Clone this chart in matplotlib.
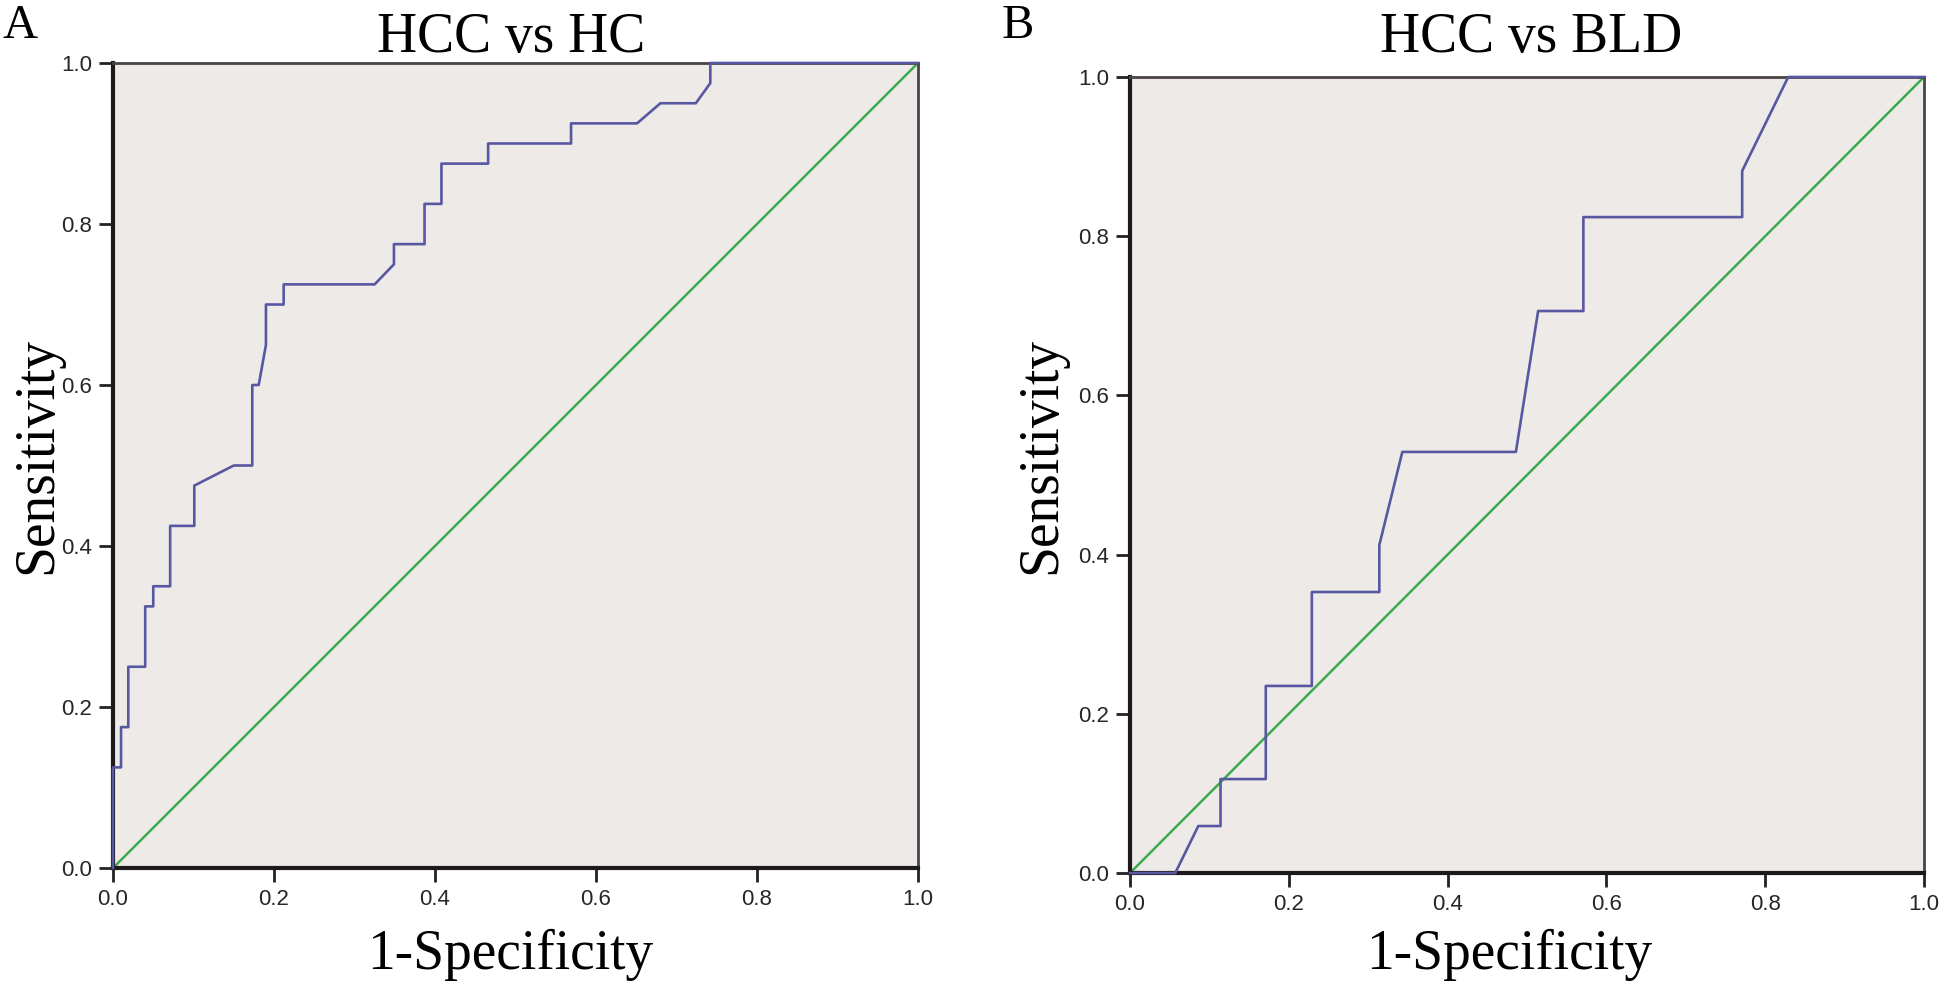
import matplotlib
matplotlib.use('Agg')
import matplotlib.pyplot as plt

#############################
# Data (ROC curves)
#############################

# HCC vs HC
fpr_hc = [0.0, 0.0, 0.010, 0.010, 0.019, 0.019, 0.040, 0.040, 0.050, 0.050, 0.071, 0.071,
          0.101, 0.101, 0.150, 0.173, 0.173, 0.181, 0.190, 0.190, 0.212, 0.212, 0.325,
          0.349, 0.349, 0.387, 0.387, 0.408, 0.408, 0.466, 0.466, 0.569, 0.569, 0.651,
          0.680, 0.724, 0.742, 0.742, 1.0]
tpr_hc = [0.0, 0.125, 0.125, 0.175, 0.175, 0.250, 0.250, 0.325, 0.325, 0.350, 0.350, 0.425,
          0.425, 0.475, 0.500, 0.500, 0.600, 0.600, 0.650, 0.700, 0.700, 0.725, 0.725,
          0.750, 0.775, 0.775, 0.825, 0.825, 0.875, 0.875, 0.900, 0.900, 0.925, 0.925,
          0.950, 0.950, 0.975, 1.0, 1.0]

# HCC vs BLD
fpr_bld = [0.0, 0.057, 0.086, 0.114, 0.114, 0.171, 0.171, 0.229, 0.229, 0.314, 0.314,
           0.343, 0.486, 0.514, 0.571, 0.571, 0.771, 0.771, 0.829, 1.0]
tpr_bld = [0.0, 0.0, 0.059, 0.059, 0.118, 0.118, 0.235, 0.235, 0.353, 0.353, 0.412,
           0.529, 0.529, 0.706, 0.706, 0.824, 0.824, 0.882, 1.0, 1.0]

ref_line = [0.0, 1.0]
ticks = [0.0, 0.2, 0.4, 0.6, 0.8, 1.0]
tick_labels = ['0.0', '0.2', '0.4', '0.6', '0.8', '1.0']

panels = [
    ('A', 'HCC vs HC', fpr_hc, tpr_hc),
    ('B', 'HCC vs BLD', fpr_bld, tpr_bld),
]

#############################
# Layout
#############################
W, H = 1944, 989
fig = plt.figure(figsize=(W / 100, H / 100), dpi=100)
fig.patch.set_facecolor('white')

# [left, bottom, width, height] in pixels of the reference
ax_px = [(113, 868, 805, 805), (1130, 873, 794, 796)]
letter_x = [2, 1002]
title_x = [511, 1531]
xlab_x = [510, 1509]
ylab_x = [37, 1041]

serif = ['Liberation Serif', 'DejaVu Serif']
sans = ['Liberation Sans', 'DejaVu Sans']

for i, (letter, title, fx, ty) in enumerate(panels):
    l, b, w, h = ax_px[i]
    ax = fig.add_axes([l / W, (H - b) / H, w / W, h / H])
    ax.set_facecolor('#EEEAE8')
    ax.plot(ref_line, ref_line, color='#3DAA4E', lw=1.8, zorder=2)
    ax.plot(fx, ty, color='#5858A2', lw=1.9, zorder=3, clip_on=False)
    ax.set_xlim(0, 1)
    ax.set_ylim(0, 1)
    ax.set_xticks(ticks)
    ax.set_yticks(ticks)
    ax.set_xticklabels(tick_labels, family=sans, fontsize=16, color='#262626')
    ax.set_yticklabels(tick_labels, family=sans, fontsize=16, color='#262626')
    ax.tick_params(direction='out', length=10, width=2, color='#222222', pad=5)
    for side in ['left', 'bottom']:
        ax.spines[side].set_linewidth(3)
        ax.spines[side].set_color('#1e1a1a')
    for side in ['top', 'right']:
        ax.spines[side].set_linewidth(2)
        ax.spines[side].set_color('#4a4444')

    fig.text(letter_x[i] / W, 1 - 4 / H, letter, family=serif, fontsize=35,
             ha='left', va='top')
    fig.text(title_x[i] / W, 1 - 38 / H, title, family=serif, fontsize=40,
             ha='center', va='center')
    fig.text(xlab_x[i] / W, 1 - 955 / H, '1-Specificity', family=serif, fontsize=40,
             ha='center', va='center')
    fig.text(ylab_x[i] / W, 1 - 455 / H, 'Sensitivity', family=serif, fontsize=40,
             ha='center', va='center', rotation=90)

fig.savefig('out.png', dpi=100)
